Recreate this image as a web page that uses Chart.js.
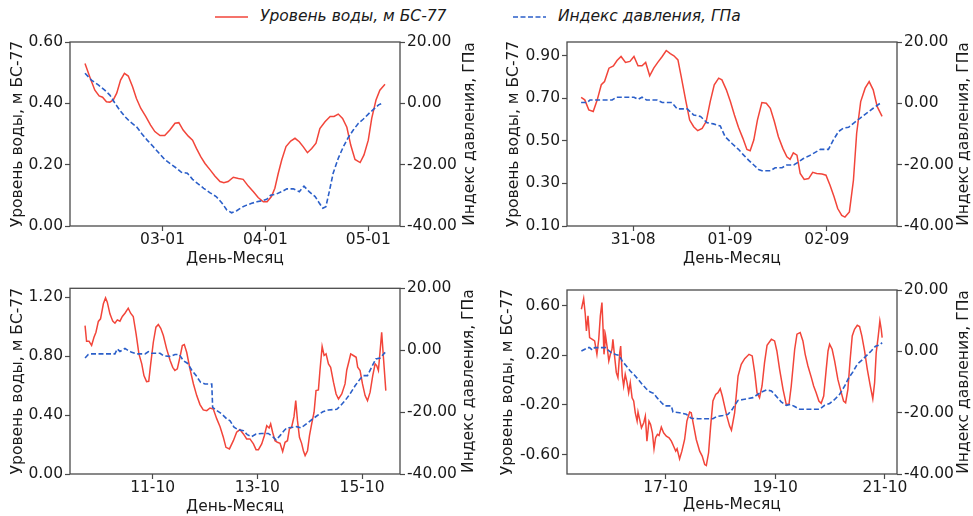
<!DOCTYPE html>
<html lang="ru">
<head>
<meta charset="UTF-8">
<title>Уровень воды и индекс давления</title>
<script src="https://cdn.jsdelivr.net/npm/chart.js"></script>
<style>
  body { margin: 0; width: 973px; height: 516px; background: #fff; position: relative; overflow: hidden; }
  canvas { position: absolute; }
  .leg { position: absolute; font: italic 15.5px "DejaVu Sans", sans-serif; color: #1a1a1a; white-space: nowrap; }
  .leg svg { position: absolute; }
</style>
</head>
<body>

<!-- общая легенда сверху -->
<svg class="leg" style="left:215px; top:10px" width="33" height="14"><line x1="0" y1="7" x2="33" y2="7" stroke="#f2453a" stroke-width="1.6"/></svg>
<div class="leg" style="left:260px; top:7px">Уровень воды, м БС-77</div>
<svg class="leg" style="left:513px; top:10px" width="33" height="14"><line x1="0" y1="7" x2="33" y2="7" stroke="#2b5fc9" stroke-width="1.6" stroke-dasharray="5 2.5"/></svg>
<div class="leg" style="left:558px; top:7px">Индекс давления, ГПа</div>

<canvas id="c1" width="486" height="240" style="left:0; top:30px"></canvas>
<canvas id="c2" width="487" height="240" style="left:486px; top:30px"></canvas>
<canvas id="c3" width="486" height="246" style="left:0; top:270px"></canvas>
<canvas id="c4" width="487" height="246" style="left:486px; top:270px"></canvas>

<script>
// время в часах от начала первых суток панели, значение
// панель 1: 02-01 .. 05-01
const p1Level = [[5.9,0.530],[7.0,0.487],[8.2,0.443],[9.2,0.424],[10,0.420],[10.9,0.405],[11.7,0.404],[12.5,0.411],[13.3,0.433],[14.2,0.476],[15.1,0.498],[16.0,0.489],[17.0,0.454],[17.9,0.416],[18.9,0.384],[20.1,0.357],[21.2,0.329],[22.2,0.308],[23.4,0.295],[24.5,0.295],[25.7,0.313],[26.9,0.335],[27.8,0.337],[28.8,0.313],[30.0,0.293],[31.0,0.280],[31.9,0.253],[32.9,0.226],[33.9,0.204],[35.1,0.183],[36.2,0.163],[37.4,0.145],[38.3,0.141],[39.3,0.145],[40.5,0.159],[41.7,0.155],[42.8,0.152],[44.0,0.130],[45.2,0.112],[46.3,0.093],[47.5,0.079],[48.4,0.079],[49.4,0.096],[50.2,0.123],[51.0,0.172],[51.8,0.215],[52.8,0.259],[53.9,0.277],[54.9,0.286],[55.9,0.275],[56.8,0.259],[57.8,0.239],[58.8,0.253],[59.8,0.270],[60.7,0.318],[61.9,0.340],[63.1,0.357],[64.0,0.357],[65.0,0.365],[66.0,0.351],[67.0,0.322],[67.9,0.264],[68.9,0.217],[70.1,0.207],[71.0,0.232],[72.0,0.280],[72.8,0.351],[73.8,0.411],[74.7,0.443],[75.9,0.462]];
const p1Press = [[5.9,9.8],[7.4,7.6],[9.0,6.0],[10.5,4.3],[11.7,2.7],[12.9,0.0],[14.0,-2.2],[15.2,-4.3],[16.4,-6.0],[17.9,-7.6],[19.1,-9.8],[20.4,-12.0],[21.8,-14.1],[23.2,-16.3],[24.5,-18.3],[25.9,-19.8],[27.3,-21.2],[28.4,-22.5],[29.8,-22.8],[31.0,-24.8],[32.3,-26.3],[33.6,-27.7],[35.0,-29.1],[36.5,-30.4],[37.8,-32.4],[39.0,-34.8],[40.1,-35.7],[41.3,-35.0],[42.5,-33.9],[43.6,-33.2],[44.8,-32.6],[46.0,-32.1],[47.1,-31.8],[48.3,-31.3],[49.2,-30.0],[50.5,-29.6],[51.8,-28.8],[53.0,-27.9],[54.5,-27.9],[55.9,-28.8],[57.0,-27.0],[58.2,-28.8],[59.6,-30.4],[60.6,-32.6],[61.4,-34.2],[62.1,-33.7],[62.9,-28.8],[63.8,-22.8],[65.0,-17.9],[66.2,-14.1],[67.3,-11.2],[68.5,-8.7],[69.7,-6.5],[70.8,-5.2],[72.0,-3.5],[73.2,-2.0],[74.4,-0.5],[75.5,0.2]];

// панель 2: 30-08 .. 02-09
const p2Level = [[11.1,0.705],[12.0,0.693],[13.0,0.646],[14.1,0.638],[15.1,0.693],[16.1,0.764],[16.9,0.779],[18.0,0.842],[19.1,0.853],[20.0,0.878],[21.0,0.897],[22.1,0.869],[23.2,0.874],[24.2,0.897],[25.2,0.853],[26.2,0.853],[27.1,0.869],[28.1,0.806],[29.1,0.842],[30.1,0.869],[31.2,0.897],[32.2,0.925],[33.2,0.910],[34.1,0.900],[35.1,0.881],[35.9,0.803],[37.0,0.693],[38.0,0.598],[39.0,0.567],[40.0,0.548],[41.1,0.559],[42.1,0.591],[43.1,0.685],[44.1,0.764],[45.2,0.795],[46.0,0.787],[47.1,0.740],[48.1,0.685],[49.1,0.622],[50.1,0.564],[51.2,0.512],[52.2,0.460],[53.0,0.454],[53.9,0.504],[54.8,0.598],[55.9,0.680],[57.0,0.677],[58.0,0.653],[59.0,0.591],[60.0,0.520],[61.1,0.465],[62.1,0.425],[62.9,0.413],[63.7,0.444],[64.6,0.433],[65.4,0.347],[66.4,0.319],[67.5,0.323],[68.5,0.352],[69.5,0.347],[70.8,0.344],[71.8,0.339],[72.8,0.292],[73.8,0.237],[74.7,0.182],[75.7,0.150],[76.5,0.142],[77.6,0.166],[78.6,0.315],[79.4,0.536],[80.4,0.685],[81.5,0.748],[82.5,0.779],[83.5,0.740],[84.5,0.661],[85.7,0.615]];
const p2Press = [[11.1,0.25],[12.6,0.25],[13.3,1.1],[18.8,1.1],[19.9,2.0],[24.2,2.0],[25.2,1.3],[26.2,2.0],[27.3,1.1],[29.9,1.1],[31.2,0.25],[33.6,0.25],[34.9,-1.8],[37.4,-1.8],[39.0,-3.8],[40.7,-4.3],[42.3,-6.3],[43.9,-6.7],[45.6,-7.4],[46.8,-10.9],[48.5,-13.1],[50.1,-15.0],[51.4,-16.9],[52.6,-18.5],[53.9,-20.1],[55.1,-21.6],[55.9,-22.0],[58.0,-22.0],[59.2,-21.0],[60.9,-21.0],[62.1,-20.1],[63.8,-20.1],[65.0,-19.1],[66.2,-18.0],[67.5,-17.2],[68.7,-16.3],[70.4,-15.0],[72.4,-15.0],[73.6,-12.0],[74.9,-9.2],[76.1,-8.1],[77.4,-7.8],[78.6,-6.5],[80.2,-4.9],[81.9,-3.2],[83.5,-1.6],[85.2,0.0],[85.7,0.3]];

// панель 3: 10-10 .. 15-10
const p3Level = [[-7.0,1.007],[-6.3,0.901],[-5.2,0.901],[-4.0,0.872],[-2.9,0.928],[-2.0,0.962],[-0.9,1.035],[0.1,1.053],[1.4,1.155],[2.4,1.195],[3.2,1.166],[4.4,1.087],[5.7,1.037],[6.7,1.023],[7.8,1.046],[9.0,1.037],[10.1,1.069],[11.3,1.091],[12.8,1.125],[13.9,1.091],[15.1,1.069],[16.4,0.951],[17.7,0.815],[19.0,0.747],[20.0,0.668],[21.2,0.627],[22.2,0.629],[23.1,0.747],[24.3,0.894],[25.5,0.996],[26.6,1.014],[27.7,0.989],[28.9,0.940],[30.4,0.849],[32.0,0.770],[33.2,0.724],[34.2,0.702],[35.3,0.713],[36.5,0.792],[37.6,0.872],[38.5,0.878],[39.6,0.826],[41.1,0.713],[42.7,0.611],[44.2,0.532],[45.7,0.471],[47.2,0.435],[48.8,0.430],[50.3,0.448],[51.8,0.441],[53.4,0.374],[54.9,0.321],[56.4,0.249],[57.6,0.181],[59.2,0.170],[61.0,0.226],[62.5,0.283],[64.0,0.301],[65.6,0.272],[67.1,0.238],[68.6,0.238],[70.2,0.204],[71.4,0.165],[72.5,0.165],[74.0,0.204],[75.2,0.260],[76.3,0.328],[77.4,0.312],[78.1,0.340],[79.0,0.283],[80.1,0.226],[81.2,0.215],[82.4,0.208],[83.6,0.152],[84.7,0.215],[85.8,0.226],[86.7,0.306],[87.7,0.317],[88.8,0.389],[89.6,0.498],[90.4,0.362],[91.3,0.249],[92.3,0.208],[93.1,0.158],[93.9,0.125],[95.0,0.158],[95.9,0.260],[96.9,0.340],[98.0,0.419],[98.9,0.566],[100.0,0.571],[100.7,0.702],[101.7,0.865],[102.6,0.804],[103.5,0.815],[104.6,0.747],[105.6,0.724],[106.9,0.623],[108.1,0.543],[109.2,0.509],[110.7,0.543],[112.2,0.611],[113.0,0.706],[114.0,0.765],[114.8,0.815],[116.0,0.804],[117.3,0.792],[118.0,0.724],[119.1,0.702],[120.2,0.611],[121.4,0.532],[122.5,0.498],[123.7,0.555],[124.9,0.668],[126.0,0.747],[126.7,0.736],[127.5,0.702],[128.3,0.838],[129.0,0.962],[129.8,0.792],[130.9,0.566]];
const p3Press = [[-7.0,-2.5],[-5.5,-1.4],[-4.7,-1.2],[6.7,-1.2],[7.8,0.4],[9.0,-0.4],[10.2,0.1],[11.3,0.6],[12.8,-0.1],[14.4,-0.7],[16.7,-1.2],[20.5,-1.2],[22.0,-0.5],[23.5,-1.0],[27.4,-1.0],[28.9,-1.8],[32.0,-2.0],[34.2,-1.4],[36.2,-1.4],[38.1,-3.4],[39.9,-4.2],[41.9,-6.4],[43.9,-8.2],[46.0,-10.4],[48.0,-10.9],[51.1,-10.9],[51.5,-18.5],[53.4,-19.5],[55.7,-20.6],[58.0,-22.2],[59.5,-22.8],[61.3,-24.9],[63.3,-25.7],[65.6,-26.0],[67.4,-27.3],[69.4,-27.9],[71.4,-27.1],[74.0,-26.9],[77.0,-26.9],[79.0,-27.9],[80.6,-29.0],[82.4,-27.6],[84.2,-26.0],[85.5,-25.1],[88.5,-24.9],[90.0,-24.7],[91.9,-25.1],[93.4,-24.4],[95.4,-23.3],[97.4,-22.2],[99.5,-21.1],[102.0,-19.9],[104.6,-19.3],[108.4,-19.1],[110.2,-17.9],[112.2,-16.3],[114.5,-14.1],[116.8,-11.5],[119.1,-9.3],[120.6,-8.2],[122.5,-8.2],[124.4,-5.5],[126.3,-2.8],[128.3,-2.5],[130.6,-0.7]];

// панель 4: 16-10 .. 21-10
const p4Level = [[-12.9,0.570],[-11.9,0.656],[-11.2,0.530],[-10.7,0.396],[-10.0,0.517],[-9.3,0.342],[-8.1,0.328],[-7.1,0.315],[-6.1,0.207],[-5.3,0.328],[-4.6,0.517],[-3.9,0.624],[-3.4,0.409],[-3.0,0.207],[-2.3,0.355],[-1.5,0.248],[-0.9,0.153],[-0.2,0.207],[0.5,0.248],[0.9,0.328],[1.7,0.180],[2.4,0.059],[3.1,0.019],[3.9,0.221],[4.3,0.274],[5.0,0.032],[5.6,-0.048],[6.3,0.046],[7.1,-0.021],[7.8,-0.102],[8.5,-0.021],[9.3,-0.143],[10.0,-0.169],[10.7,-0.264],[11.5,-0.331],[11.9,-0.258],[12.6,-0.317],[13.4,-0.385],[14.4,-0.344],[15.1,-0.291],[15.8,-0.492],[16.7,-0.331],[17.4,-0.358],[18.2,-0.425],[18.9,-0.554],[19.6,-0.465],[20.4,-0.438],[21.1,-0.447],[22.1,-0.379],[23.1,-0.425],[24.3,-0.452],[25.5,-0.465],[26.5,-0.492],[27.5,-0.533],[28.4,-0.573],[29.0,-0.554],[30.1,-0.635],[31.1,-0.573],[32.3,-0.479],[33.3,-0.331],[34.5,-0.258],[35.2,-0.264],[36.3,-0.371],[37.4,-0.479],[38.9,-0.573],[40.0,-0.613],[41.1,-0.681],[41.8,-0.689],[42.8,-0.586],[43.7,-0.371],[44.7,-0.169],[45.9,-0.116],[46.9,-0.102],[47.9,-0.070],[48.8,-0.129],[49.8,-0.210],[50.8,-0.291],[52.0,-0.371],[52.8,-0.404],[54.2,-0.264],[55.7,0.032],[57.1,0.126],[58.6,0.172],[60.5,0.207],[61.9,0.194],[63.0,0.059],[64.0,-0.102],[65.1,-0.143],[66.2,-0.048],[67.3,0.140],[68.4,0.280],[70.3,0.328],[71.7,0.315],[72.7,0.234],[73.9,0.086],[75.4,-0.075],[76.8,-0.196],[78.0,-0.196],[79.0,-0.048],[80.5,0.248],[81.5,0.369],[82.9,0.382],[84.1,0.315],[85.1,0.207],[86.3,0.113],[87.8,0.019],[88.8,-0.048],[89.9,-0.102],[91.1,-0.169],[92.1,-0.188],[93.2,-0.129],[94.3,0.086],[95.1,0.234],[95.8,0.288],[96.9,0.248],[98.0,0.153],[99.4,0.005],[100.9,-0.102],[101.9,-0.169],[102.8,-0.183],[103.8,-0.075],[104.8,0.167],[105.7,0.355],[106.7,0.409],[107.9,0.441],[108.9,0.431],[109.9,0.355],[111.1,0.234],[112.3,0.086],[113.6,-0.048],[114.7,-0.151],[115.5,-0.021],[116.2,0.221],[117.1,0.355],[117.8,0.476],[118.4,0.409],[118.8,0.342]];
const p4Press = [[-12.9,0.1],[-11.4,0.65],[-10.4,1.2],[-9.3,1.2],[-8.1,0.4],[-7.1,1.2],[-2.3,1.2],[-1.2,0.4],[0.2,-0.4],[2.1,-1.0],[3.6,-1.3],[5.0,-3.2],[6.8,-4.8],[8.5,-6.4],[10.4,-7.8],[11.9,-9.1],[13.8,-10.8],[15.5,-12.2],[17.3,-13.3],[18.7,-13.7],[20.2,-15.1],[22.1,-16.7],[23.6,-17.8],[26.5,-17.8],[27.2,-19.8],[30.1,-20.0],[33.0,-20.5],[35.2,-21.8],[38.2,-22.0],[44.7,-22.0],[46.2,-21.3],[49.1,-20.9],[51.3,-20.5],[53.0,-19.1],[54.5,-17.3],[55.7,-16.0],[57.9,-15.7],[60.0,-15.4],[62.2,-15.1],[64.4,-14.0],[65.9,-13.3],[68.1,-12.6],[70.3,-12.9],[72.4,-14.6],[74.6,-16.5],[76.8,-17.6],[78.6,-17.3],[80.5,-18.0],[82.7,-18.9],[91.4,-18.9],[93.6,-17.6],[95.8,-17.0],[98.0,-15.7],[100.2,-14.0],[102.4,-11.3],[104.2,-8.6],[106.0,-6.7],[107.9,-4.2],[110.1,-2.8],[111.8,-1.5],[114.0,0.1],[115.9,1.7],[117.4,2.0],[118.8,2.8]];

// подписи осей X
const p1Ticks = [24, 48, 72], p1Labels = ['03-01', '04-01', '05-01'];
const p2Ticks = [24, 48, 72], p2Labels = ['31-08', '01-09', '02-09'];
const p3Ticks = [24, 72, 120], p3Labels = ['11-10', '13-10', '15-10'];
const p4Ticks = [24, 72, 120], p4Labels = ['17-10', '19-10', '21-10'];

// деления левой оси
const p1Level_ticks = [0, 0.2, 0.4, 0.6];
const p2Level_ticks = [0.1, 0.3, 0.5, 0.7, 0.9];
const p3Level_ticks = [0, 0.4, 0.8, 1.2];
const p4Level_ticks = [-0.6, -0.2, 0.2, 0.6];
// правая ось одинаковая
const pressTicks = [-40, -20, 0, 20];

const red = '#f2453a';
const blue = '#2b5fc9';
const spine = '#4a4a4a';
const ink = '#1a1a1a';
const fnt = { family: 'DejaVu Sans', size: 15.5 };

const panelExtras = {
  id: 'panelExtras',
  afterDraw(chart, args, opts) {
    const ctx = chart.ctx, a = chart.chartArea;
    ctx.save();
    ctx.strokeStyle = spine;
    ctx.lineWidth = 1.3;
    ctx.strokeRect(a.left, a.top, a.right - a.left, a.bottom - a.top);
    // правая подпись, читается снизу вверх как в matplotlib
    ctx.translate(opts.titleX, (a.top + a.bottom) / 2);
    ctx.rotate(-Math.PI / 2);
    ctx.font = '15.5px "DejaVu Sans"';
    ctx.fillStyle = ink;
    ctx.textAlign = 'center';
    ctx.textBaseline = 'middle';
    ctx.fillText('Индекс давления, ГПа', 0, 0);
    ctx.restore();
  }
};

function fixTicks(list) {
  return function (scale) { scale.ticks = list.map(v => ({ value: v })); };
}

function makePanel(id, p) {
  const tickGrid = { drawOnChartArea: false, tickLength: 5, tickColor: spine, tickWidth: 1.2 };
  new Chart(document.getElementById(id), {
    type: 'line',
    data: {
      datasets: [
        { data: p.press.map(d => ({ x: d[0], y: d[1] })), yAxisID: 'y1', borderColor: blue, borderWidth: 1.6,
          borderDash: [5, 2.5], pointRadius: 0, tension: 0, order: 0 },
        { data: p.level.map(d => ({ x: d[0], y: d[1] })), yAxisID: 'y', borderColor: red, borderWidth: 1.5,
          pointRadius: 0, tension: 0, order: 1 }
      ]
    },
    options: {
      responsive: false,
      animation: false,
      devicePixelRatio: 1,
      layout: { padding: { top: p.top, left: 0, right: 0, bottom: 0 } },
      plugins: { legend: { display: false }, tooltip: { enabled: false }, panelExtras: { titleX: p.rightTitleX } },
      scales: {
        x: {
          type: 'linear', min: p.xMin, max: p.xMax,
          afterBuildTicks: fixTicks(p.xTicks),
          afterFit: s => { s.height = p.bottomH; },
          ticks: { callback: (v, i) => p.xLabels[i], autoSkip: false, maxRotation: 0, padding: 0, color: ink, font: fnt },
          grid: tickGrid,
          border: { display: false },
          title: { display: true, text: 'День-Месяц', color: ink, font: fnt, padding: { top: 0, bottom: p.xTitlePad } }
        },
        y: {
          position: 'left', min: p.yMin, max: p.yMax,
          afterBuildTicks: fixTicks(p.yTicks),
          afterFit: s => { s.width = p.leftW; },
          ticks: { callback: v => v.toFixed(2), padding: 2, color: ink, font: fnt },
          grid: tickGrid,
          border: { display: false },
          title: { display: true, text: 'Уровень воды, м БС-77', color: ink, font: fnt, padding: { top: p.yTitlePad, bottom: 0 } }
        },
        y1: {
          position: 'right', min: -40, max: 20,
          afterBuildTicks: fixTicks(pressTicks),
          afterFit: s => { s.width = p.rightW; },
          ticks: { callback: v => v.toFixed(2), padding: 2, color: ink, font: fnt },
          grid: tickGrid,
          border: { display: false }
        }
      }
    },
    plugins: [panelExtras]
  });
}

makePanel('c1', { level: p1Level, press: p1Press, xMin: 2.4, xMax: 79.4, xTicks: p1Ticks, xLabels: p1Labels,
  yMin: 0, yMax: 0.6, yTicks: p1Level_ticks, top: 12, bottomH: 44, leftW: 70, rightW: 86,
  yTitlePad: 8.7, xTitlePad: 2, rightTitleX: 470 });
makePanel('c2', { level: p2Level, press: p2Press, xMin: 7.6, xMax: 89.4, xTicks: p2Ticks, xLabels: p2Labels,
  yMin: 0.1, yMax: 0.965, yTicks: p2Level_ticks, top: 12, bottomH: 44, leftW: 81, rightW: 76,
  yTitlePad: 18.2, xTitlePad: 1.5, rightTitleX: 477.5 });
makePanel('c3', { level: p3Level, press: p3Press, xMin: -13.9, xMax: 137.4, xTicks: p3Ticks, xLabels: p3Labels,
  yMin: 0, yMax: 1.26, yTicks: p3Level_ticks, top: 18.3, bottomH: 42, leftW: 70, rightW: 86,
  yTitlePad: 8.7, xTitlePad: -0.6, rightTitleX: 469 });
makePanel('c4', { level: p4Level, press: p4Press, xMin: -19.2, xMax: 125.3, xTicks: p4Ticks, xLabels: p4Labels,
  yMin: -0.757, yMax: 0.725, yTicks: p4Level_ticks, top: 20, bottomH: 42, leftW: 81, rightW: 76,
  yTitlePad: 12.2, xTitlePad: 1.5, rightTitleX: 478 });
</script>
</body>
</html>
